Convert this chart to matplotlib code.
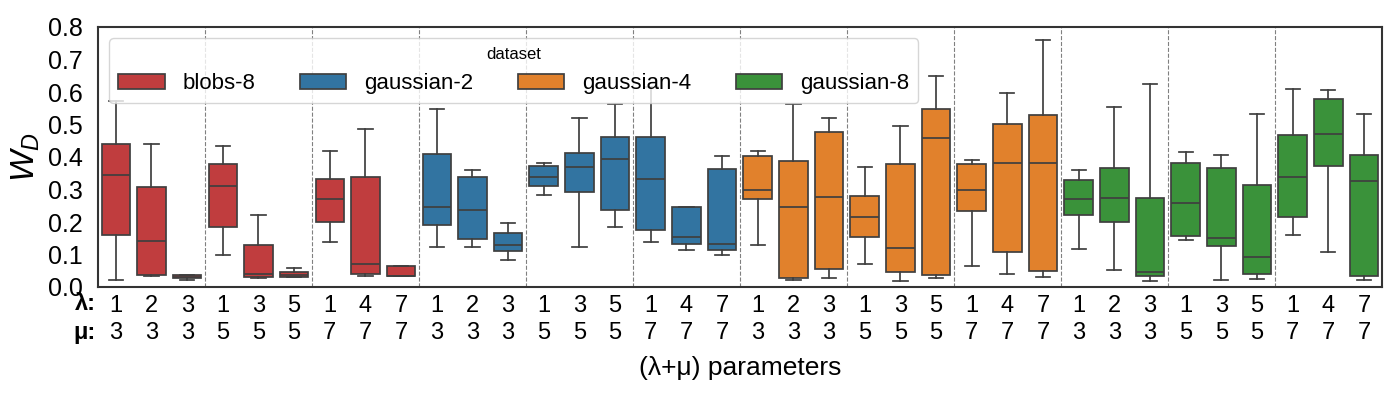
import matplotlib
matplotlib.use("Agg")
import matplotlib.pyplot as plt
from matplotlib.patches import Patch

# Fonts / style
plt.rcParams['font.family'] = ['Liberation Sans', 'DejaVu Sans']
plt.rcParams['mathtext.fontset'] = 'custom'
plt.rcParams['mathtext.it'] = 'Liberation Sans:italic'
plt.rcParams['mathtext.rm'] = 'Liberation Sans'

# Data
datasets = ["blobs-8", "gaussian-2", "gaussian-4", "gaussian-8"]
colors = ["#c03d3e", "#3274a1", "#e1812c", "#3a923a"]
lambdas = [1, 2, 3, 1, 3, 5, 1, 4, 7]
mus = [3, 3, 3, 5, 5, 5, 7, 7, 7]

whislo = [0.022, 0.034, 0.022, 0.100, 0.028, 0.030, 0.137, 0.034, 0.033,
          0.122, 0.122, 0.082, 0.282, 0.122, 0.184, 0.137, 0.113, 0.100,
          0.128, 0.021, 0.027, 0.070, 0.018, 0.027, 0.064, 0.039, 0.030,
          0.116, 0.051, 0.018, 0.144, 0.021, 0.024, 0.159, 0.107, 0.021]
q1 = [0.159, 0.036, 0.027, 0.186, 0.032, 0.031, 0.199, 0.039, 0.034,
      0.190, 0.147, 0.110, 0.310, 0.291, 0.238, 0.174, 0.131, 0.113,
      0.270, 0.027, 0.054, 0.153, 0.045, 0.036, 0.233, 0.107, 0.048,
      0.221, 0.199, 0.033, 0.156, 0.125, 0.039, 0.215, 0.371, 0.033]
med = [0.345, 0.142, 0.032, 0.310, 0.039, 0.036, 0.270, 0.070, 0.035,
       0.245, 0.236, 0.128, 0.338, 0.368, 0.393, 0.331, 0.153, 0.131,
       0.300, 0.245, 0.276, 0.215, 0.119, 0.458, 0.298, 0.381, 0.381,
       0.270, 0.273, 0.045, 0.258, 0.150, 0.091, 0.340, 0.470, 0.325]
q3 = [0.439, 0.307, 0.036, 0.377, 0.128, 0.045, 0.331, 0.340, 0.064,
      0.408, 0.340, 0.165, 0.371, 0.411, 0.461, 0.461, 0.245, 0.362,
      0.402, 0.387, 0.476, 0.279, 0.378, 0.547, 0.378, 0.501, 0.528,
      0.328, 0.365, 0.273, 0.381, 0.365, 0.313, 0.467, 0.578, 0.405]
whishi = [0.572, 0.439, 0.037, 0.433, 0.221, 0.057, 0.417, 0.485, 0.065,
          0.547, 0.359, 0.196, 0.383, 0.519, 0.562, 0.615, 0.245, 0.402,
          0.420, 0.562, 0.519, 0.368, 0.494, 0.648, 0.390, 0.596, 0.759,
          0.359, 0.553, 0.624, 0.414, 0.405, 0.531, 0.608, 0.605, 0.531]

EDGE = "#3f3f3f"

fig = plt.figure(figsize=(14, 4), dpi=100)
ax = fig.add_axes([0.07, 0.2825, 0.917, 0.65])

n_per = len(lambdas)
stats = []
for i in range(len(med)):
    stats.append(dict(whislo=whislo[i], q1=q1[i], med=med[i], q3=q3[i],
                      whishi=whishi[i], fliers=[]))
positions = list(range(len(stats)))

bp = ax.bxp(stats, positions=positions, widths=0.8, capwidths=0.4,
            patch_artist=True, showfliers=False,
            boxprops=dict(edgecolor=EDGE, linewidth=1.25),
            whiskerprops=dict(color=EDGE, linewidth=1.25),
            capprops=dict(color=EDGE, linewidth=1.25),
            medianprops=dict(color=EDGE, linewidth=1.25))
for i, box in enumerate(bp['boxes']):
    box.set_facecolor(colors[i // n_per])

# group separators
for k in range(1, len(stats) // 3):
    ax.axvline(3 * k - 0.5, color="gray", linestyle="--", linewidth=0.8, zorder=0)

ax.set_xlim(-0.5, len(stats) - 0.5)
ax.set_ylim(0, 0.8)
ax.set_yticks([0.0, 0.1, 0.2, 0.3, 0.4, 0.5, 0.6, 0.7, 0.8])
ax.set_xticks(positions)
ax.set_xticklabels([f"{lambdas[i % n_per]}\n{mus[i % n_per]}" for i in positions],
                   linespacing=1.3)
ax.tick_params(axis='x', length=0, pad=6, labelsize=17)
ax.tick_params(axis='y', length=0, pad=11, labelsize=18)

for s in ax.spines.values():
    s.set_color("#333333")
    s.set_linewidth(1.5)

ax.text(-0.002, -0.02, "λ:\nμ:", transform=ax.transAxes, ha='right', va='top',
        fontsize=17, fontweight='bold', linespacing=1.3)

ax.set_ylabel("$W_D$", fontsize=24, labelpad=4)
ax.set_xlabel("(λ+μ) parameters", fontsize=19, labelpad=8)

handles = [Patch(facecolor=c, edgecolor=EDGE, linewidth=1.25) for c in colors]
leg = ax.legend(handles, datasets, title="dataset", ncol=4, loc="upper left",
                fontsize=16, title_fontsize=12, framealpha=0.8,
                handlelength=2.1, columnspacing=2.0)
leg.get_frame().set_edgecolor("#cccccc")

fig.savefig("out.png", dpi=100)
